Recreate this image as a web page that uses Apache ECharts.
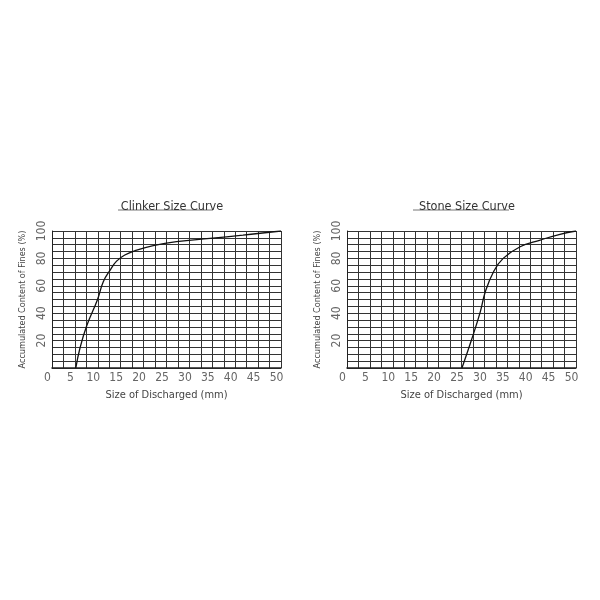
<!DOCTYPE html>
<html><head><meta charset="utf-8">
<script src="https://cdn.jsdelivr.net/npm/echarts@6/dist/echarts.min.js"></script>
<style>html,body{margin:0;padding:0;background:#fff}#c{width:600px;height:600px}</style>
</head><body><div id="c"></div>
<script>
const titles = ['Clinker Size Curve', 'Stone Size Curve'];
const xName = 'Size of Discharged (mm)';
const yName = 'Accumulated Content of Fines (%)';
const clinkerX = [5.2, 6.1, 7.6, 9.9, 11.2, 12.7, 14.1, 15.9, 18.5, 22.1, 27.2, 34.5, 41.7, 50];
const clinkerY = [0, 14.4, 31, 49.6, 63, 71.5, 78, 82.5, 86, 89.3, 92.2, 94.6, 97, 100];
const stoneX = [25.1, 27.3, 29.1, 30.2, 32, 34.1, 37.8, 42.2, 46.5, 50];
const stoneY = [0, 21.7, 41, 55.7, 70.3, 80, 88.5, 93.4, 97.6, 100];
const xTicks = [0, 5, 10, 15, 20, 25, 30, 35, 40, 45, 50];
const yTicks = [20, 40, 60, 80, 100];

const font = 'DejaVu Sans Condensed';
const lefts = [52, 347];
const grids = lefts.map(l => ({left: l, top: 231, width: 229, height: 137}));
function xAxis(i) {
  return {
    type: 'value', gridIndex: i, min: 0, max: 50, interval: 2.5,
    name: xName, nameLocation: 'middle', nameGap: 22,
    nameTextStyle: {fontFamily: font, fontSize: 11, color: '#444'},
    axisLine: {show: true, lineStyle: {color: '#222', width: 1.5}},
    axisTick: {show: false},
    axisLabel: {margin: 4, fontFamily: font, fontSize: 12, color: '#666',
      formatter: v => xTicks.includes(v) ? String(v) : '', padding: [0, 9, 0, 0]},
    splitLine: {show: true, lineStyle: {color: '#333', width: 1}}
  };
}
function yAxis(i) {
  return {
    type: 'value', gridIndex: i, min: 0, max: 100, interval: 5,
    name: yName, nameLocation: 'middle', nameGap: 25,
    nameTextStyle: {fontFamily: font, fontSize: 9, color: '#444'},
    axisLine: {show: true, lineStyle: {color: '#222', width: 1}},
    axisTick: {show: false},
    axisLabel: {margin: 4, rotate: 90, fontFamily: font, fontSize: 12, color: '#666',
      formatter: v => yTicks.includes(v) ? String(v) : ''},
    splitLine: {show: true, lineStyle: {color: '#333', width: 1}}
  };
}
const series = [[clinkerX, clinkerY], [stoneX, stoneY]].map((d, i) => ({
  type: 'line', xAxisIndex: i, yAxisIndex: i, smooth: 0.45, symbol: 'none',
  lineStyle: {color: '#111', width: 1.3},
  data: d[0].map((x, k) => [x, d[1][k]])
}));
const option = {
  animation: false,
  title: [
    {text: titles[0], left: 167, top: 195, textAlign: 'center',
     textStyle: {fontFamily: font, fontSize: 12.5, fontWeight: 'normal', color: '#333'}},
    {text: titles[1], left: 462, top: 195, textAlign: 'center',
     textStyle: {fontFamily: font, fontSize: 12.5, fontWeight: 'normal', color: '#333'}}
  ],
  graphic: [
    {type: 'line', shape: {x1: 118, y1: 210, x2: 213, y2: 210}, style: {stroke: '#777', lineWidth: 1}},
    {type: 'line', shape: {x1: 413, y1: 210, x2: 509, y2: 210}, style: {stroke: '#777', lineWidth: 1}}
  ],
  grid: grids,
  xAxis: [xAxis(0), xAxis(1)],
  yAxis: [yAxis(0), yAxis(1)],
  series: series
};
echarts.init(document.getElementById('c')).setOption(option);
</script></body></html>
